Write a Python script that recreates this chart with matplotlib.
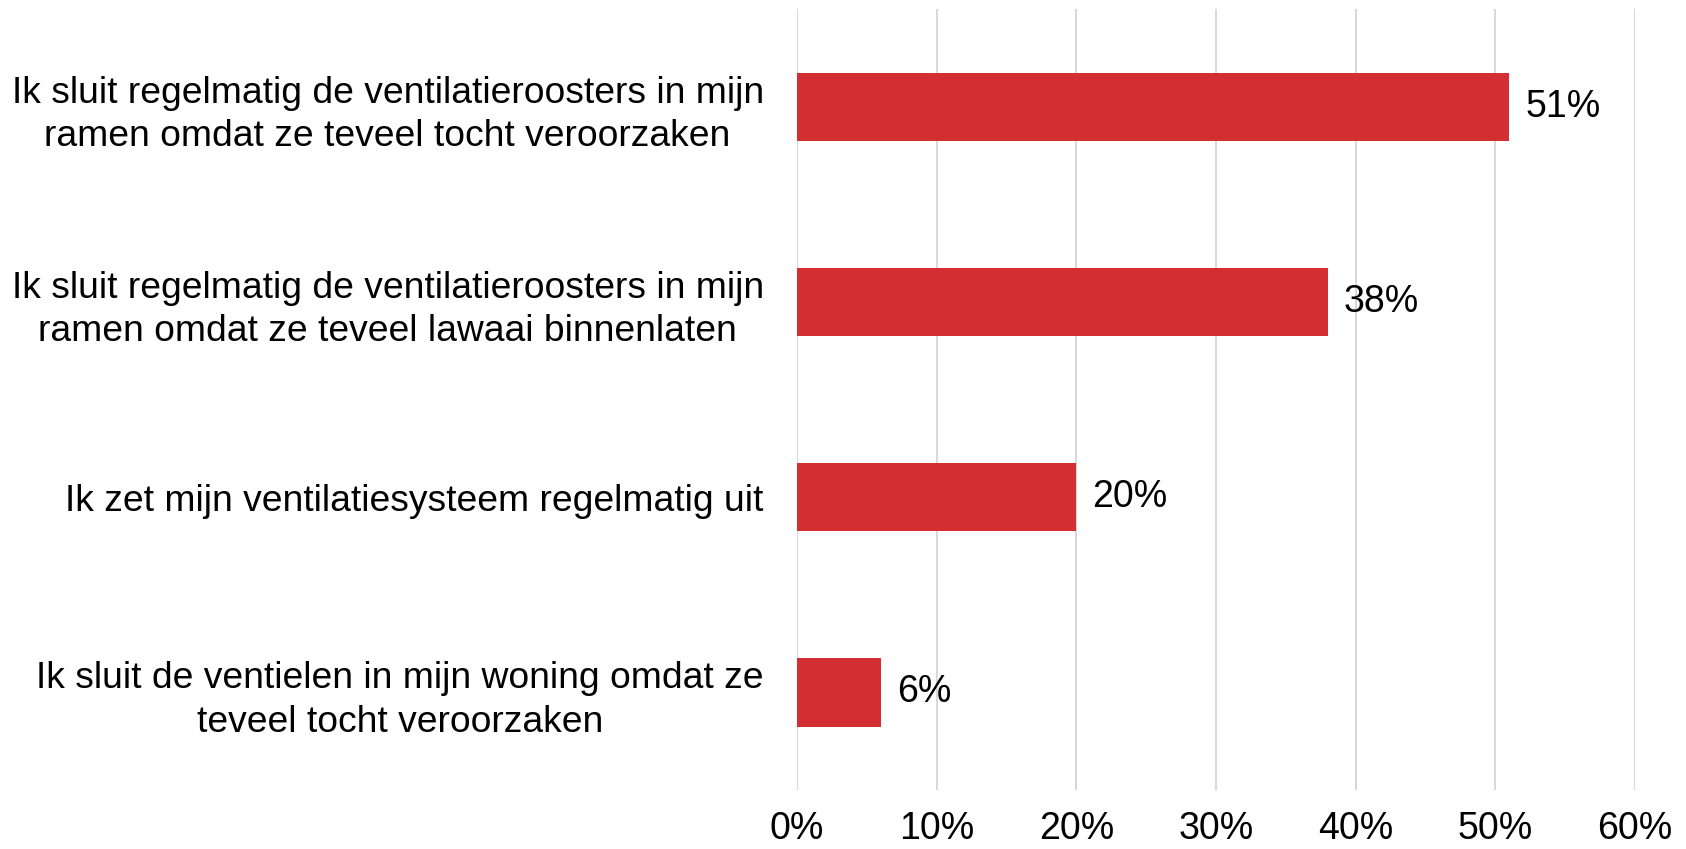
import matplotlib
matplotlib.use("Agg")
import matplotlib.pyplot as plt
from matplotlib.ticker import PercentFormatter

plt.rcParams['font.family'] = ['Liberation Sans', 'DejaVu Sans']

labels = [
    "Ik sluit regelmatig de ventilatieroosters in mijn\nramen omdat ze teveel tocht veroorzaken",
    "Ik sluit regelmatig de ventilatieroosters in mijn\nramen omdat ze teveel lawaai binnenlaten",
    "Ik zet mijn ventilatiesysteem regelmatig uit",
    "Ik sluit de ventielen in mijn woning omdat ze\nteveel tocht veroorzaken",
]
values = [51, 38, 20, 6]
xticks = [0, 10, 20, 30, 40, 50, 60]

fig = plt.figure(figsize=(16.86, 8.49), dpi=100)
ax = fig.add_axes([0.4727, 0.0695, 0.497, 0.9195])

ypos = list(range(len(values)))
ax.barh(ypos, values, height=0.35, color='#D32F32', zorder=3)
for y, v in zip(ypos, values):
    ax.text(v + 1.15, y, f"{v}%", va='center', ha='left', fontsize=27, color='black')

ax.set_yticks(ypos)
ax.set_yticklabels(labels, fontsize=26.8, ha='right', multialignment='center',
                   linespacing=1.3)
ax.tick_params(axis='y', length=0, pad=24)
ax.set_ylim(3.5, -0.5)

ax.set_xlim(0, 60)
ax.set_xticks(xticks)
ax.xaxis.set_major_formatter(PercentFormatter(decimals=0))
ax.tick_params(axis='x', length=0, pad=15, labelsize=27)
ax.grid(axis='x', color='#D9D9D9', linewidth=1.5, zorder=0)
for s in ax.spines.values():
    s.set_visible(False)

fig.savefig("out.png", dpi=100)
